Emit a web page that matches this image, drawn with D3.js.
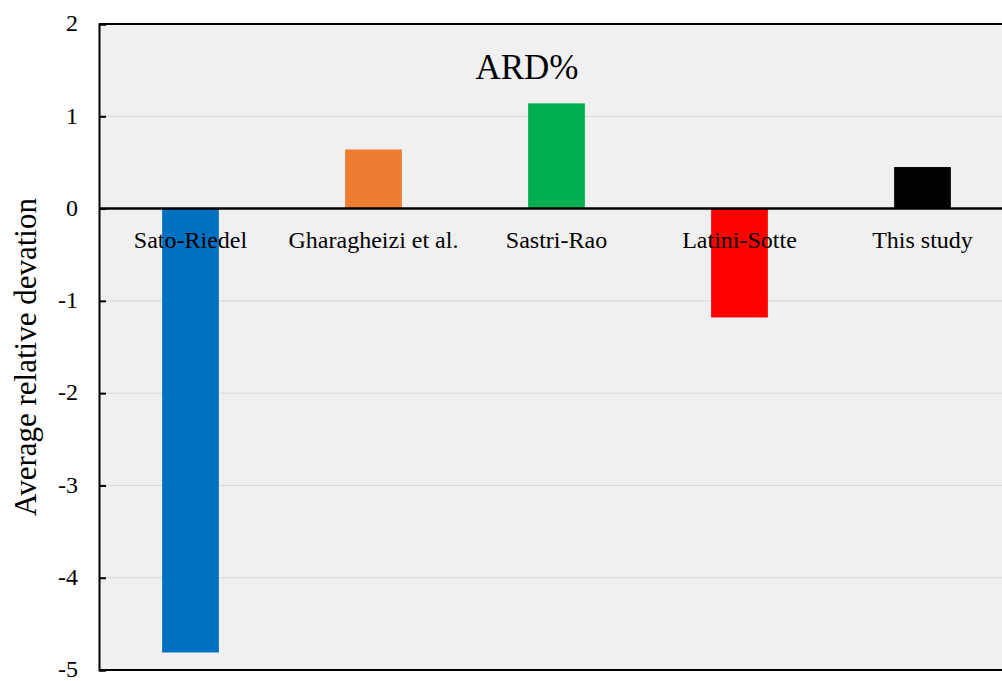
<!DOCTYPE html>
<html>
<head>
<meta charset="utf-8">
<script src="https://cdn.jsdelivr.net/npm/d3@7"></script>
<style>
  html, body { margin: 0; padding: 0; background: #ffffff; }
  svg { display: block; }
</style>
</head>
<body>
<svg id="chart" width="1002" height="681"></svg>
<script>
const categories = ["Sato-Riedel", "Gharagheizi et al.", "Sastri-Rao", "Latini-Sotte", "This study"];
const values = [-4.81, 0.64, 1.14, -1.18, 0.45];
const colors = ["#0070C0", "#ED7D31", "#00B050", "#FF0000", "#000000"];
const yTicks = [2, 1, 0, -1, -2, -3, -4, -5];
const titleText = "ARD%";
const yTitle = "Average relative devation";

const svg = d3.select("#chart");
const margin = { left: 99, top: 24, right: -12, bottom: 11 };
const W = 1002, H = 681;
const x0 = margin.left, x1 = W - margin.right;
const y0 = margin.top, y1 = H - margin.bottom;

const x = d3.scaleBand().domain(categories).range([x0, x1]).paddingInner(0.69).paddingOuter(0.345);
const y = d3.scaleLinear().domain([-5, 2]).range([y1, y0]);

const font = "'Liberation Serif', 'Times New Roman', serif";

// plot background
svg.append("rect").attr("x", x0).attr("y", y0).attr("width", x1 - x0).attr("height", y1 - y0).attr("fill", "#f0f0f0");

// gridlines
svg.append("g").selectAll("line").data(yTicks.filter(t => t !== 0 && t !== 2 && t !== -5)).join("line")
  .attr("x1", x0).attr("x2", x1)
  .attr("y1", d => y(d)).attr("y2", d => y(d))
  .attr("stroke", "#d9d9d9").attr("stroke-width", 1);

// bars
svg.append("g").selectAll("rect").data(values).join("rect")
  .attr("x", (d, i) => x(categories[i]))
  .attr("width", x.bandwidth())
  .attr("y", d => y(Math.max(0, d)))
  .attr("height", d => Math.abs(y(d) - y(0)))
  .attr("fill", (d, i) => colors[i]);

// y axis
const yAxis = d3.axisLeft(y).tickValues(yTicks).tickSize(-7).tickPadding(21).tickFormat(d => String(d));
const gy = svg.append("g").attr("transform", `translate(${x0},0)`).call(yAxis);
gy.select(".domain").attr("stroke", "#000").attr("stroke-width", 2);
gy.selectAll(".tick line").attr("stroke", "#000").attr("stroke-width", 2);
gy.selectAll(".tick text").attr("font-family", font).attr("font-size", 24).attr("fill", "#000").attr("dy", "0.28em");

// top and bottom border
svg.append("line").attr("x1", x0).attr("x2", x1).attr("y1", y0).attr("y2", y0).attr("stroke", "#000").attr("stroke-width", 2);
svg.append("line").attr("x1", x0).attr("x2", x1).attr("y1", y1).attr("y2", y1).attr("stroke", "#000").attr("stroke-width", 2);

// zero line
svg.append("line").attr("x1", x0).attr("x2", x1).attr("y1", y(0)).attr("y2", y(0)).attr("stroke", "#000").attr("stroke-width", 2.5);

// category labels
svg.append("g").selectAll("text").data(categories).join("text")
  .attr("x", d => x(d) + x.bandwidth() / 2)
  .attr("y", y(0) + 39)
  .attr("text-anchor", "middle")
  .attr("font-family", font).attr("font-size", 24).attr("fill", "#000")
  .text(d => d);

// title
svg.append("text").attr("x", 527).attr("y", 79).attr("text-anchor", "middle")
  .attr("font-family", font).attr("font-size", 35).attr("fill", "#000").text(titleText);

// y title
svg.append("text").attr("transform", `translate(36,${(y0 + y1) / 2 + 10}) rotate(-90)`)
  .attr("text-anchor", "middle")
  .attr("font-family", font).attr("font-size", 31).attr("fill", "#000").text(yTitle);
</script>
</body>
</html>
